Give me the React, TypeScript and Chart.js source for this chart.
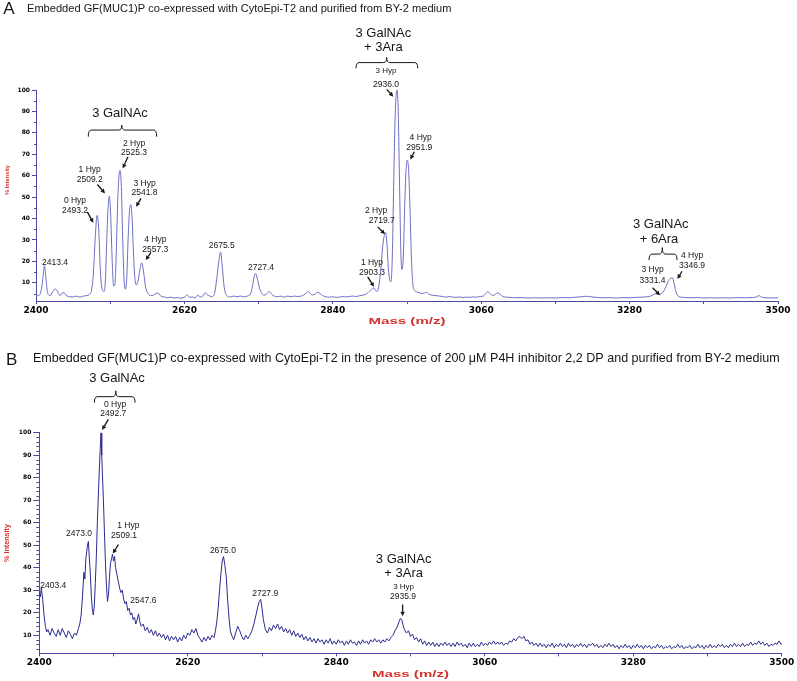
import React, { useEffect, useRef } from "react";
import { Chart, registerables } from "chart.js";

Chart.register(...registerables);

// ---------------- axes ----------------
const massMin = 2400;
const massMax = 3500;
const massTicks = [2400, 2510, 2620, 2730, 2840, 2950, 3060, 3170, 3280, 3390, 3500];
const massTickLabels = [2400, 2620, 2840, 3060, 3280, 3500];
const intensityTicks = [10, 20, 30, 40, 50, 60, 70, 80, 90, 100];

// ---------------- titles ----------------
const titleA = "Embedded GF(MUC1)P co-expressed with CytoEpi-T2 and purified from BY-2 medium";
const titleB =
  "Embedded GF(MUC1)P co-expressed with CytoEpi-T2 in the presence of 200 \u03bcM P4H inhibitor 2,2 DP and purified from BY-2 medium";
const massAxisTitle = "Mass (m/z)";
const intensityAxisTitle = "% Intensity";

// ---------------- spectrum A : [m/z, % intensity] ----------------
const spectrumA: [number, number][] = [
  [2400, 4.5], [2404, 4], [2408, 7], [2410.5, 13], [2412.5, 18], [2414.5, 13], [2417, 5.5], [2421, 4],
  [2425, 6], [2428, 7], [2431, 6.5], [2434, 4.5], [2437, 4.2], [2440, 5.5], [2443, 5], [2446, 3.8],
  [2450, 3.5], [2455, 3.4], [2460, 3.8], [2465, 3.3], [2470, 3.8], [2475, 4], [2479, 4.5], [2482, 6],
  [2485, 14], [2488, 32], [2490.5, 41.5], [2493, 35], [2495.5, 15], [2498.5, 6.5], [2501, 6], [2503, 12],
  [2505, 31], [2507, 46], [2508.7, 50.5], [2510.5, 43], [2513, 20], [2515, 8.5], [2517, 9.5], [2519, 24],
  [2521, 47], [2523, 60], [2524.7, 62.5], [2526.5, 55], [2528.5, 31], [2530.5, 12], [2532.5, 7], [2534.5, 12],
  [2536.5, 30], [2538.5, 43], [2540.5, 46.5], [2542.5, 40], [2544.5, 24], [2546.5, 12.5], [2548.5, 9], [2551, 10.5],
  [2554, 16], [2556.8, 19.3], [2559.5, 15], [2562.5, 8], [2566, 5], [2570, 4], [2574, 4.2], [2578, 5],
  [2581, 5.2], [2585, 3.8], [2590, 3.4], [2595, 3], [2600, 3.3], [2605, 2.9], [2610, 3.1], [2615, 2.8],
  [2620, 3.3], [2624, 4.3], [2628, 3.2], [2632, 3.4], [2636, 2.9], [2640, 4.3], [2643, 3.3], [2647, 3.8],
  [2651, 5.3], [2654, 4.3], [2658, 3.8], [2661, 3.5], [2665, 5.5], [2668, 12], [2671, 20], [2673.7, 24.3],
  [2676, 18], [2679, 8], [2683, 4], [2688, 3.4], [2693, 3.8], [2698, 3.5], [2703, 3.8], [2708, 3.4],
  [2713, 3.8], [2718, 4.8], [2721, 8.5], [2723.5, 13], [2725.7, 14.3], [2728, 12], [2731, 8], [2734, 5.5],
  [2738, 4.2], [2742, 4.8], [2746, 6], [2749, 4.8], [2753, 3.8], [2758, 3.5], [2763, 3.8], [2768, 3.3],
  [2773, 3.8], [2778, 3.5], [2783, 3.8], [2788, 3.6], [2793, 3.8], [2797, 4.3], [2801, 5.3], [2804, 6],
  [2807, 4.8], [2810, 4.3], [2814, 4.8], [2818, 5.6], [2821, 5], [2825, 4], [2830, 3.4], [2835, 3.3],
  [2840, 3.5], [2845, 3.2], [2850, 3.3], [2855, 3.6], [2860, 3.4], [2865, 3.6], [2870, 3.8], [2875, 3.6],
  [2880, 4], [2885, 4.3], [2890, 4.8], [2894, 6], [2897, 6.8], [2901, 7.6], [2903.5, 6.3], [2905.5, 6],
  [2908, 8], [2911, 16], [2914, 27], [2916.3, 32], [2918.3, 33.5], [2920.3, 28], [2922.3, 17], [2924.3, 11.5],
  [2926.2, 10.5], [2928.2, 22], [2930.2, 55], [2932.2, 85], [2934, 98], [2935.4, 100], [2937, 90], [2939, 55],
  [2941, 23], [2942.7, 16.2], [2944.5, 22], [2946.5, 45], [2948.5, 62], [2950.5, 67.3], [2952.5, 62], [2954.5, 44],
  [2956.5, 22], [2958.5, 10], [2961, 6.5], [2964, 5.8], [2968, 5.4], [2972, 5], [2976, 5.3], [2979, 5.5],
  [2983, 4.6], [2988, 4.2], [2993, 4], [2998, 3.8], [3003, 3.6], [3008, 3.3], [3013, 3.6], [3018, 3.3],
  [3023, 3.2], [3028, 3.4], [3033, 3.1], [3038, 3.3], [3043, 3.2], [3048, 3.4], [3053, 3.3], [3058, 3.6],
  [3063, 3.8], [3067, 5], [3070, 6], [3073, 5], [3077, 4], [3081, 4.6], [3084.5, 5.3], [3088, 4.6],
  [3092, 3.6], [3097, 3.3], [3103, 3.2], [3110, 3], [3120, 3.1], [3130, 2.9], [3140, 3], [3150, 2.9],
  [3160, 3], [3170, 2.9], [3180, 3.1], [3190, 3], [3200, 3.3], [3210, 3.5], [3216, 3.7], [3222, 3.5],
  [3230, 3.2], [3240, 3], [3250, 3.1], [3260, 2.9], [3270, 3.1], [3280, 3], [3290, 3.2], [3300, 3.3],
  [3306, 3.5], [3311, 3.8], [3315, 4.4], [3319, 5], [3322, 4.5], [3325, 4.6], [3329, 5.5], [3333, 7.5],
  [3337, 10.5], [3340, 12], [3343.5, 12.3], [3346, 9.5], [3349, 5.5], [3353, 3.6], [3360, 3.2], [3370, 3],
  [3380, 3.1], [3390, 2.9], [3400, 3], [3410, 2.9], [3420, 3], [3430, 2.9], [3440, 3.1], [3450, 3],
  [3460, 3.1], [3467, 3.3], [3472, 4], [3476, 3.3], [3482, 3], [3490, 2.9], [3500, 3],
];

// ---------------- spectrum B : [m/z, % intensity] ----------------
const spectrumB: [number, number][] = [
  [2400, 29], [2401.5, 27], [2403, 31], [2405, 26], [2407, 19], [2409, 14], [2411, 11.5], [2413, 12.5],
  [2416, 10], [2419, 13], [2422, 11], [2425, 9.5], [2428, 12.5], [2431, 10], [2434, 13], [2437, 11],
  [2440, 9], [2443, 12], [2446, 10.5], [2449, 8.5], [2452, 11], [2455, 10], [2458, 13], [2460, 15],
  [2462, 19], [2464, 27], [2466, 38], [2467.5, 35], [2469, 44], [2471, 49], [2472.7, 51.7], [2474, 45],
  [2475.5, 38], [2477, 28], [2478.5, 22], [2480, 19], [2481.5, 23], [2483, 33], [2484.5, 45], [2486, 60],
  [2487.5, 72], [2489, 84], [2490.3, 93], [2491.5, 100], [2492.5, 90], [2493.5, 82], [2495, 70], [2496.5, 56],
  [2498, 42], [2499.5, 32], [2501, 25], [2502.5, 28], [2504, 36], [2505.5, 42], [2507, 44], [2508.5, 46],
  [2510, 43], [2511.5, 45], [2513, 40], [2515, 37], [2517, 34], [2519, 31], [2521, 29], [2523, 30],
  [2525, 26], [2527, 24], [2529, 25], [2531, 21], [2533, 22], [2535, 19], [2537, 20], [2539, 17],
  [2541, 18], [2543, 15], [2545, 17], [2547, 19.5], [2549, 16], [2551, 14], [2554, 15], [2557, 12],
  [2560, 13.5], [2563, 11], [2566, 12.5], [2569, 10], [2572, 12], [2575, 9.5], [2578, 11], [2581, 9],
  [2584, 10.5], [2587, 8], [2590, 10], [2593, 7.5], [2596, 9.5], [2599, 8], [2602, 9.5], [2605, 7],
  [2608, 9], [2611, 7.5], [2614, 10], [2617, 8.5], [2620, 11], [2623, 10], [2626, 12.5], [2629, 11],
  [2632, 13], [2635, 10], [2638, 8.5], [2641, 7], [2644, 9], [2647, 7.5], [2650, 9.5], [2653, 8],
  [2656, 10], [2659, 9], [2661, 12], [2663, 16], [2665, 22], [2667, 30], [2669, 37], [2671, 43],
  [2673, 45], [2675, 41], [2677, 36], [2679, 26], [2681, 18], [2683, 12], [2685, 10], [2688, 8],
  [2691, 11], [2694, 14], [2697, 12], [2700, 9.5], [2703, 8], [2706, 10], [2709, 8.5], [2712, 10],
  [2715, 12], [2718, 15], [2721, 19], [2724, 23], [2726, 25], [2728, 26], [2730, 22], [2732, 17],
  [2735, 12.5], [2738, 11], [2741, 13.5], [2744, 12], [2747, 14.5], [2750, 13], [2753, 15], [2756, 12.5],
  [2759, 14], [2762, 11.5], [2765, 13], [2768, 11], [2771, 12.5], [2774, 10], [2777, 12], [2780, 9.5],
  [2783, 11], [2786, 9], [2789, 10.5], [2792, 8], [2795, 9.5], [2798, 7.5], [2801, 9], [2804, 7],
  [2807, 8.5], [2810, 6.5], [2813, 8.5], [2816, 7], [2819, 8], [2822, 6], [2825, 8], [2828, 6.5],
  [2831, 8.5], [2834, 6], [2837, 7.5], [2840, 6], [2843, 8], [2846, 6.5], [2849, 7.5], [2852, 5.5],
  [2855, 7.5], [2858, 6], [2861, 8], [2864, 6.5], [2867, 7], [2870, 5.5], [2873, 7.5], [2876, 6],
  [2879, 8], [2882, 6.5], [2885, 7.5], [2888, 6], [2891, 8], [2894, 7], [2897, 8.5], [2900, 7],
  [2903, 8], [2906, 6.5], [2909, 8], [2912, 7], [2915, 8.5], [2918, 7.5], [2921, 9], [2924, 10],
  [2927, 12], [2930, 13.5], [2933, 16], [2935, 17.5], [2937, 17], [2939, 14.5], [2941, 12.5], [2944, 11],
  [2947, 12], [2950, 9.5], [2953, 10.5], [2956, 8], [2959, 9], [2962, 7], [2965, 8.5], [2968, 6],
  [2971, 7.5], [2974, 5.5], [2977, 7], [2980, 5.5], [2983, 7], [2986, 5], [2989, 6.5], [2992, 5],
  [2995, 6.5], [2998, 5.5], [3001, 7], [3004, 5.5], [3007, 6.5], [3010, 5], [3013, 6.5], [3016, 5],
  [3019, 7], [3022, 5.5], [3025, 6.5], [3028, 5], [3031, 6], [3034, 4.5], [3037, 6.5], [3040, 5],
  [3043, 6.5], [3046, 5], [3049, 6], [3052, 5], [3055, 7], [3058, 5.5], [3061, 6.5], [3064, 5.5],
  [3067, 7], [3070, 6], [3073, 7.5], [3076, 6], [3079, 7], [3082, 6], [3085, 7], [3088, 5.5],
  [3091, 6.5], [3094, 6], [3097, 7.5], [3100, 7], [3103, 8.5], [3106, 7.5], [3109, 9], [3112, 9.5],
  [3115, 8.5], [3118, 9.5], [3121, 7.5], [3124, 8], [3127, 6], [3130, 7], [3133, 5.5], [3136, 6.5],
  [3139, 5], [3142, 6.5], [3145, 5], [3148, 6], [3151, 4.5], [3154, 6], [3157, 5], [3160, 6.5],
  [3163, 4.5], [3166, 6], [3169, 5], [3172, 6.5], [3175, 5], [3178, 6], [3181, 4.5], [3184, 6.5],
  [3187, 5], [3190, 6], [3193, 4.5], [3196, 6], [3199, 5], [3202, 6.5], [3205, 5], [3208, 6],
  [3211, 4.5], [3214, 6], [3217, 5.5], [3220, 6.5], [3223, 5], [3226, 6], [3229, 4.5], [3232, 5.5],
  [3235, 4.5], [3238, 6], [3241, 5], [3244, 6.5], [3247, 5], [3250, 6], [3253, 4.5], [3256, 5.5],
  [3259, 4], [3262, 5.5], [3265, 4.5], [3268, 6], [3271, 4.5], [3274, 5.5], [3277, 4], [3280, 5.5],
  [3283, 4.5], [3286, 6], [3289, 4.5], [3292, 5.5], [3295, 4], [3298, 5.5], [3301, 4.5], [3304, 5.5],
  [3307, 4], [3310, 5], [3313, 4.5], [3316, 6], [3319, 4.5], [3322, 5.5], [3325, 4], [3328, 5],
  [3331, 4.5], [3334, 5.5], [3337, 4], [3340, 5], [3343, 4.5], [3346, 6], [3349, 4.5], [3352, 5.5],
  [3355, 4], [3358, 5], [3361, 4.5], [3364, 5.5], [3367, 4], [3370, 5], [3373, 4.5], [3376, 6],
  [3379, 4.5], [3382, 5.5], [3385, 4], [3388, 5.5], [3391, 4.5], [3394, 6], [3397, 4.5], [3400, 5.5],
  [3403, 4.5], [3406, 6], [3409, 5], [3412, 6], [3415, 4.5], [3418, 5.5], [3421, 4.5], [3424, 6],
  [3427, 5], [3430, 6.5], [3433, 5], [3436, 6], [3439, 5], [3442, 6.5], [3445, 5], [3448, 6],
  [3451, 5.5], [3454, 7], [3457, 5.5], [3460, 6.5], [3463, 6], [3466, 7.5], [3469, 6], [3472, 7],
  [3475, 5.5], [3478, 6.5], [3481, 5], [3484, 6], [3487, 5.5], [3490, 6.5], [3493, 6], [3496, 7.5],
  [3499, 6], [3500, 6.5],
];

// ---------------- annotations (data coordinates: m/z, % intensity) ----------------
type Label = [string, number, number, number]; // text, m/z, intensity, font size
type Arrow = [number, number, number, number]; // m1, i1, m2 (tip), i2 (tip)
type Bracket = [number, number, number, number, number, number]; // mLeft, mRight, mCusp, iLine, iEnds, iCusp

const labelsA: Label[] = [
  ["2413.4", 2428.2, 19.3, 8.5],
  ["0 Hyp", 2457.8, 48.4, 8.5], ["2493.2", 2457.8, 43.9, 8.5],
  ["1 Hyp", 2479.6, 62.6, 8.5], ["2509.2", 2479.6, 58.1, 8.5],
  ["2 Hyp", 2545.3, 75.1, 8.5], ["2525.3", 2545.3, 70.6, 8.5],
  ["3 Hyp", 2560.9, 56.4, 8.5], ["2541.8", 2560.9, 51.9, 8.5],
  ["4 Hyp", 2576.9, 30.2, 8.5], ["2557.3", 2576.9, 25.7, 8.5],
  ["2675.5", 2675.3, 27.2, 8.5],
  ["2727.4", 2733.6, 17.1, 8.5],
  ["1 Hyp", 2898.1, 19.3, 8.5], ["2903.3", 2898.1, 14.8, 8.5],
  ["2 Hyp", 2904.1, 43.9, 8.5], ["2719.7", 2912.5, 38.9, 8.5],
  ["3 Hyp", 2918.9, 109, 8], ["2936.0", 2918.9, 102.7, 8.5],
  ["4 Hyp", 2970.3, 77.9, 8.5], ["2951.9", 2968.3, 73, 8.5],
  ["3 Hyp", 3314, 16.1, 8.5], ["3331.4", 3314, 11.2, 8.5],
  ["4 Hyp", 3372.6, 22.9, 8.5], ["3346.9", 3372.6, 18.1, 8.5],
  ["3 GalNAc", 2524.5, 89.1, 13],
  ["3 GalNAc", 2914.9, 126.5, 13], ["+ 3Ara", 2914.9, 120, 13],
  ["3 GalNAc", 3326.2, 37.1, 13], ["+ 6Ara", 3323.6, 30.2, 13],
];
const arrowsA: Arrow[] = [
  [2476.1, 43.1, 2485, 38],
  [2490.9, 55.9, 2502.3, 51.7],
  [2536.4, 68.8, 2528.5, 63.4],
  [2555.7, 49.4, 2548.3, 45.5],
  [2570.5, 24.2, 2562.6, 20.6],
  [2891.8, 12.8, 2901.1, 8.1],
  [2906.6, 36.1, 2917.4, 32.7],
  [2919.9, 100.3, 2929.7, 96.9],
  [2960.9, 71.2, 2954.9, 67.6],
  [3314, 7.7, 3325.1, 4.2],
  [3357.7, 15.4, 3350.9, 11.8],
];
const bracketsA: Bracket[] = [
  [2477.5, 2578.9, 2527.1, 81.3, 78.2, 83.6],
  [2874.4, 2965.9, 2919.9, 112.8, 110.1, 115.2],
  [3308.8, 3350.3, 3328.5, 23.4, 20.6, 26.4],
];

const labelsB: Label[] = [
  ["3 GalNAc", 2515.2, 124.2, 13],
  ["0 Hyp", 2512.3, 112.3, 8.5], ["2492.7", 2509.7, 108.4, 8.5],
  ["2473.0", 2458.9, 55.1, 8.5],
  ["1 Hyp", 2532, 58.7, 8.5], ["2509.1", 2525.6, 54.3, 8.5],
  ["2403.4", 2420.8, 32.2, 8.5],
  ["2547.6", 2554.2, 25.5, 8.5],
  ["2675.0", 2672, 47.7, 8.5],
  ["2727.9", 2734.7, 28.4, 8.5],
  ["3 GalNAc", 2939.8, 43.9, 13], ["+ 3Ara", 2939.8, 37.4, 13],
  ["3 Hyp", 2939.8, 31.5, 8], ["2935.9", 2938.9, 27.1, 8.5],
];
const arrowsB: Arrow[] = [
  [2502.3, 105.9, 2493, 101.2],
  [2517.2, 50.3, 2508.9, 46.3],
  [2938.3, 23.7, 2938.3, 18.5],
];
const bracketsB: Bracket[] = [[2481.6, 2541.9, 2513.3, 116, 113.3, 118.6]];

// ---------------- styling / layout ----------------
const FONT = '"Liberation Sans", Arial, Helvetica, sans-serif';
const AXIS_COLOR = "#4a4aa4";
const RED = "#d3322c";
const INK = "#161616";

interface Panel {
  letter: string;
  title: string;
  spectrum: [number, number][];
  labels: Label[];
  arrows: Arrow[];
  brackets: Bracket[];
  lineColor: string;
  monotone: boolean;
  yMin: number;
  canvasH: number;
  padTop: number;
  padRight: number;
  yAxisWidth: number;
  xAxisHeight: number;
  yTickLen: number;
  minorStart: number;
  minorStep: number;
  minorLen: number;
  letterX: number;
  letterY: number;
  titleX: number;
  titleY: number;
  titleWidth: number;
  yTitleValue: number;
  yTitleWidth: number;
  massTitleOffset: number;
}

const panelA: Panel = {
  letter: "A",
  title: titleA,
  spectrum: spectrumA,
  labels: labelsA,
  arrows: arrowsA,
  brackets: bracketsA,
  lineColor: "#6e6ec2",
  monotone: true,
  yMin: 1.5,
  canvasH: 345,
  padTop: 90,
  padRight: 19,
  yAxisWidth: 36,
  xAxisHeight: 44,
  yTickLen: 4,
  minorStart: 5,
  minorStep: 5,
  minorLen: 2,
  letterX: 9,
  letterY: 9,
  titleX: 27,
  titleY: 9,
  titleWidth: 425,
  yTitleValue: 58,
  yTitleWidth: 30,
  massTitleOffset: 21,
};

const panelB: Panel = {
  letter: "B",
  title: titleB,
  spectrum: spectrumB,
  labels: labelsB,
  arrows: arrowsB,
  brackets: bracketsB,
  lineColor: "#2c2c8e",
  monotone: false,
  yMin: 2,
  canvasH: 336,
  padTop: 87.7,
  padRight: 15.3,
  yAxisWidth: 39.3,
  xAxisHeight: 27.7,
  yTickLen: 6,
  minorStart: 4,
  minorStep: 2,
  minorLen: 3,
  letterX: 11.7,
  letterY: 15,
  titleX: 33,
  titleY: 14,
  titleWidth: 747,
  yTitleValue: 51,
  yTitleWidth: 38,
  massTitleOffset: 21,
};

function makeOverlay(p: Panel) {
  return {
    id: "overlay" + p.letter,
    afterDraw(chart: any) {
      const { ctx, chartArea } = chart;
      const xs = chart.scales.x;
      const ys = chart.scales.y;
      const X = (m: number) => xs.getPixelForValue(m);
      const Y = (i: number) => ys.getPixelForValue(i);
      ctx.save();

      // minor y ticks
      ctx.strokeStyle = AXIS_COLOR;
      ctx.lineWidth = 1;
      for (let v = p.minorStart; v < 100; v += p.minorStep) {
        if (v % 10 === 0) continue;
        const y = Math.round(Y(v)) + 0.5;
        ctx.beginPath();
        ctx.moveTo(chartArea.left - p.minorLen, y);
        ctx.lineTo(chartArea.left, y);
        ctx.stroke();
      }

      // labels
      ctx.fillStyle = INK;
      ctx.textAlign = "center";
      ctx.textBaseline = "middle";
      for (const [text, m, i, size] of p.labels) {
        ctx.font = `${size}px ${FONT}`;
        ctx.fillText(text, X(m), Y(i));
      }

      // arrows
      ctx.strokeStyle = INK;
      ctx.fillStyle = INK;
      for (const [m1, i1, m2, i2] of p.arrows) {
        const x1 = X(m1), y1 = Y(i1), x2 = X(m2), y2 = Y(i2);
        const a = Math.atan2(y2 - y1, x2 - x1);
        const hl = 4.5, hw = 2.2;
        const bx = x2 - hl * Math.cos(a), by = y2 - hl * Math.sin(a);
        ctx.lineWidth = 1.3;
        ctx.beginPath();
        ctx.moveTo(x1, y1);
        ctx.lineTo(bx, by);
        ctx.stroke();
        ctx.beginPath();
        ctx.moveTo(x2, y2);
        ctx.lineTo(bx + hw * Math.sin(a), by - hw * Math.cos(a));
        ctx.lineTo(bx - hw * Math.sin(a), by + hw * Math.cos(a));
        ctx.closePath();
        ctx.fill();
      }

      // brackets
      ctx.lineWidth = 1;
      for (const [mL, mR, mC, iL, iE, iC] of p.brackets) {
        const xl = X(mL), xr = X(mR), xc = X(mC), yl = Y(iL), ye = Y(iE), yc = Y(iC);
        ctx.beginPath();
        ctx.moveTo(xl, ye);
        ctx.quadraticCurveTo(xl, yl, xl + 3, yl);
        ctx.lineTo(xc - 3, yl);
        ctx.quadraticCurveTo(xc, yl, xc, yc);
        ctx.quadraticCurveTo(xc, yl, xc + 3, yl);
        ctx.lineTo(xr - 3, yl);
        ctx.quadraticCurveTo(xr, yl, xr, ye);
        ctx.stroke();
      }

      // mass axis title (wide, squat red bold)
      ctx.fillStyle = RED;
      ctx.font = `bold 9px ${FONT}`;
      const mw = ctx.measureText(massAxisTitle).width;
      ctx.save();
      ctx.translate((chartArea.left + chartArea.right) / 2, chartArea.bottom + p.massTitleOffset);
      ctx.scale(77 / mw, 1);
      ctx.fillText(massAxisTitle, 0, 0);
      ctx.restore();

      // intensity axis title (rotated)
      ctx.save();
      ctx.font = `bold 10px ${FONT}`;
      const iw = ctx.measureText(intensityAxisTitle).width;
      const fs = (10 * p.yTitleWidth) / iw;
      ctx.font = `bold ${fs}px ${FONT}`;
      ctx.translate(7, Y(p.yTitleValue));
      ctx.rotate(-Math.PI / 2);
      ctx.fillText(intensityAxisTitle, 0, 0);
      ctx.restore();

      // panel letter + title
      ctx.fillStyle = INK;
      ctx.font = `17px ${FONT}`;
      ctx.fillText(p.letter, p.letterX, p.letterY);
      ctx.font = `12px ${FONT}`;
      const tw = ctx.measureText(p.title).width;
      const tfs = (12 * p.titleWidth) / tw;
      ctx.font = `${tfs}px ${FONT}`;
      ctx.textAlign = "left";
      ctx.fillText(p.title, p.titleX, p.titleY);

      ctx.restore();
    },
  };
}

function buildConfig(p: Panel): any {
  return {
    type: "line",
    data: {
      datasets: [
        {
          data: p.spectrum.map(([x, y]) => ({ x, y })),
          borderColor: p.lineColor,
          borderWidth: 1,
          pointRadius: 0,
          fill: false,
          tension: p.monotone ? 0.4 : 0,
          cubicInterpolationMode: p.monotone ? "monotone" : "default",
        },
      ],
    },
    options: {
      animation: false,
      responsive: false,
      devicePixelRatio: 1,
      events: [],
      layout: { padding: { left: 0, right: p.padRight, top: p.padTop, bottom: 0 } },
      plugins: { legend: { display: false }, tooltip: { enabled: false }, title: { display: false } },
      scales: {
        x: {
          type: "linear",
          min: massMin,
          max: massMax,
          afterBuildTicks: (s: any) => {
            s.ticks = massTicks.map((v) => ({ value: v }));
          },
          afterFit: (s: any) => {
            s.height = p.xAxisHeight;
          },
          ticks: {
            autoSkip: false,
            maxRotation: 0,
            minRotation: 0,
            padding: 1,
            color: "#000",
            font: { family: "DejaVu Sans", size: 9, weight: "bold" },
            callback: (v: any) => (massTickLabels.includes(Number(v)) ? String(v) : ""),
          },
          grid: { display: true, drawOnChartArea: false, drawTicks: true, tickLength: 3, color: AXIS_COLOR },
          border: { display: true, color: AXIS_COLOR, width: 1 },
        },
        y: {
          type: "linear",
          min: p.yMin,
          max: 100,
          afterBuildTicks: (s: any) => {
            s.ticks = intensityTicks.map((v) => ({ value: v }));
          },
          afterFit: (s: any) => {
            s.width = p.yAxisWidth;
          },
          ticks: {
            padding: 2,
            color: "#000",
            font: { family: "DejaVu Sans", size: 6, weight: "bold" },
            callback: (v: any) => String(v),
          },
          grid: { display: true, drawOnChartArea: false, drawTicks: true, tickLength: p.yTickLen, color: AXIS_COLOR },
          border: { display: true, color: AXIS_COLOR, width: 1 },
        },
      },
    },
    plugins: [makeOverlay(p)],
  };
}

export default function App() {
  const refA = useRef<HTMLCanvasElement>(null);
  const refB = useRef<HTMLCanvasElement>(null);

  useEffect(() => {
    const a = new Chart(refA.current as HTMLCanvasElement, buildConfig(panelA));
    const b = new Chart(refB.current as HTMLCanvasElement, buildConfig(panelB));
    return () => {
      a.destroy();
      b.destroy();
    };
  }, []);

  return (
    <div style={{ position: "absolute", left: 0, top: 0, width: 797, height: 681, background: "#fff" }}>
      <canvas
        ref={refA}
        width={797}
        height={panelA.canvasH}
        style={{ position: "absolute", left: 0, top: 0, width: 797, height: panelA.canvasH }}
      />
      <canvas
        ref={refB}
        width={797}
        height={panelB.canvasH}
        style={{ position: "absolute", left: 0, top: panelA.canvasH, width: 797, height: panelB.canvasH }}
      />
    </div>
  );
}
